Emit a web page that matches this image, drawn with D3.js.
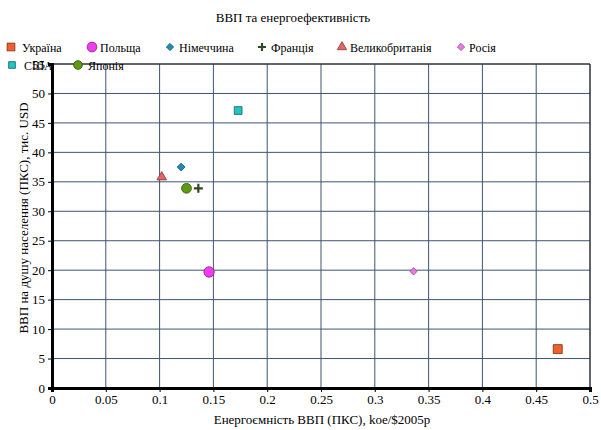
<!DOCTYPE html>
<html>
<head>
<meta charset="utf-8">
<script src="https://cdn.jsdelivr.net/npm/d3@7"></script>
<style>
  html, body { margin: 0; padding: 0; background: #fff; }
  svg text { font-family: "Times New Roman", "Liberation Serif", serif !important; }
</style>
</head>
<body>
<svg id="chart" width="601" height="430" style="font-family: 'Times New Roman', serif"></svg>
<script>
// Countries and their values
const countries = ["Україна", "Польща", "Німеччина", "Франція", "Великобританія", "Росія", "США", "Японія"];
const energyIntensity = [0.470, 0.146, 0.120, 0.136, 0.102, 0.336, 0.173, 0.125];
const gdpPerCapita = [6.6, 19.7, 37.5, 33.9, 35.8, 19.8, 47.1, 33.9];
const xTicks = [0, 0.05, 0.1, 0.15, 0.2, 0.25, 0.3, 0.35, 0.4, 0.45, 0.5];
const yTicks = [0, 5, 10, 15, 20, 25, 30, 35, 40, 45, 50, 55];

const SERIF = "Times New Roman";

// Marker styles per country ("rhomb" = square turned 45 degrees)
const markers = [
  { type: d3.symbolSquare,   size: 80, fill: "#f0602a", stroke: "#7a2a10" },
  { type: d3.symbolCircle,   size: 85, fill: "#f23cf2", stroke: "#8a1a8a" },
  { type: "rhomb",           size: 30, fill: "#1e8db5", stroke: "#105070" },
  { type: "plus",            size: 9,  fill: "#2f4a1e", stroke: "#2f4a1e" },
  { type: d3.symbolTriangle, size: 40, fill: "#e06868", stroke: "#903030" },
  { type: "rhomb",           size: 26, fill: "#e87ae8", stroke: "#a040a0" },
  { type: d3.symbolSquare,   size: 60, fill: "#22c4c4", stroke: "#106060" },
  { type: d3.symbolCircle,   size: 75, fill: "#5e9a12", stroke: "#2e5008" }
];

const svg = d3.select("#chart");
const m = { left: 52, right: 11, top: 64, bottom: 42 };
const W = 601, H = 430;

const x = d3.scaleLinear().domain([0, 0.5]).range([m.left, W - m.right]);
const y = d3.scaleLinear().domain([0, 55]).range([H - m.bottom, m.top]);

function label(sel, size = 13) {
  return sel.style("font-family", SERIF).style("font-size", size + "px").attr("fill", "#000");
}

// Title
label(svg.append("text").attr("x", 293).attr("y", 22).attr("text-anchor", "middle"), 13)
  .text("ВВП та енергоефективність");

// Grid lines
const grid = svg.append("g");
grid.selectAll("line.v").data(xTicks.slice(1)).join("line")
  .attr("x1", d => x(d)).attr("x2", d => x(d))
  .attr("y1", y(0)).attr("y2", y(55))
  .attr("stroke", "#3c5574").attr("stroke-width", 1);
grid.selectAll("line.h").data(yTicks.slice(1)).join("line")
  .attr("x1", x(0)).attr("x2", x(0.5))
  .attr("y1", d => y(d)).attr("y2", d => y(d))
  .attr("stroke", "#3c5574").attr("stroke-width", 1);

// Plot frame (top and right edges)
svg.append("line").attr("x1", x(0)).attr("x2", x(0.5)).attr("y1", y(55)).attr("y2", y(55))
  .attr("stroke", "#222").attr("stroke-width", 1);
svg.append("line").attr("x1", x(0.5)).attr("x2", x(0.5)).attr("y1", y(0)).attr("y2", y(55))
  .attr("stroke", "#222").attr("stroke-width", 1);

// Axes
const xAxis = d3.axisBottom(x).tickValues(xTicks).tickFormat(d => String(d)).tickSize(4).tickPadding(3);
const yAxis = d3.axisLeft(y).tickValues(yTicks).tickFormat(d => String(d)).tickSize(4).tickPadding(3);

const gx = svg.append("g").attr("transform", `translate(0,${y(0)})`).call(xAxis);
const gy = svg.append("g").attr("transform", `translate(${x(0)},0)`).call(yAxis);
[gx, gy].forEach(g => {
  g.attr("font-family", null);
  g.select(".domain").attr("stroke", "#000").attr("stroke-width", 3);
  g.selectAll(".tick line").attr("stroke", "#000");
  label(g.selectAll(".tick text"), 13);
});

// Axis titles
label(svg.append("text").attr("x", 322).attr("y", 424).attr("text-anchor", "middle"))
  .text("Енергоємність ВВП (ПКС), koe/$2005р");
label(svg.append("text").attr("transform", "translate(28,218) rotate(-90)").attr("text-anchor", "middle"))
  .text("ВВП на душу населення (ПКС), тис. USD");

// Marker drawing helper
function drawMarker(g, mk) {
  if (mk.type === "plus") {
    const s = mk.size / 2;
    g.append("path").attr("d", `M${-s},0H${s}M0,${-s}V${s}`)
      .attr("stroke", mk.stroke).attr("stroke-width", 2.2).attr("fill", "none");
  } else if (mk.type === "rhomb") {
    g.append("path").attr("d", d3.symbol().type(d3.symbolSquare).size(mk.size)())
      .attr("transform", "rotate(45)")
      .attr("fill", mk.fill).attr("stroke", mk.stroke).attr("stroke-width", 0.8);
  } else {
    g.append("path").attr("d", d3.symbol().type(mk.type).size(mk.size)())
      .attr("fill", mk.fill).attr("stroke", mk.stroke).attr("stroke-width", 0.8);
  }
}

// Data points
countries.forEach((c, i) => {
  const g = svg.append("g").attr("transform", `translate(${x(energyIntensity[i])},${y(gdpPerCapita[i])})`);
  drawMarker(g, markers[i]);
});

// Legend
const legendPos = [
  [11, 47, 22], [92, 47, 100], [170, 47, 179], [262, 47, 271],
  [342, 47, 350], [461, 47, 469], [12, 65, 24], [78, 65, 88]
];
const legendSize = [60, 75, 26, 8, 38, 26, 45, 60];
countries.forEach((c, i) => {
  const [mx, my, tx] = legendPos[i];
  const g = svg.append("g").attr("transform", `translate(${mx},${my})`);
  drawMarker(g, Object.assign({}, markers[i], { size: legendSize[i] }));
  label(svg.append("text").attr("x", tx).attr("y", my + 4.5), 12).text(c);
});
</script>
</body>
</html>
